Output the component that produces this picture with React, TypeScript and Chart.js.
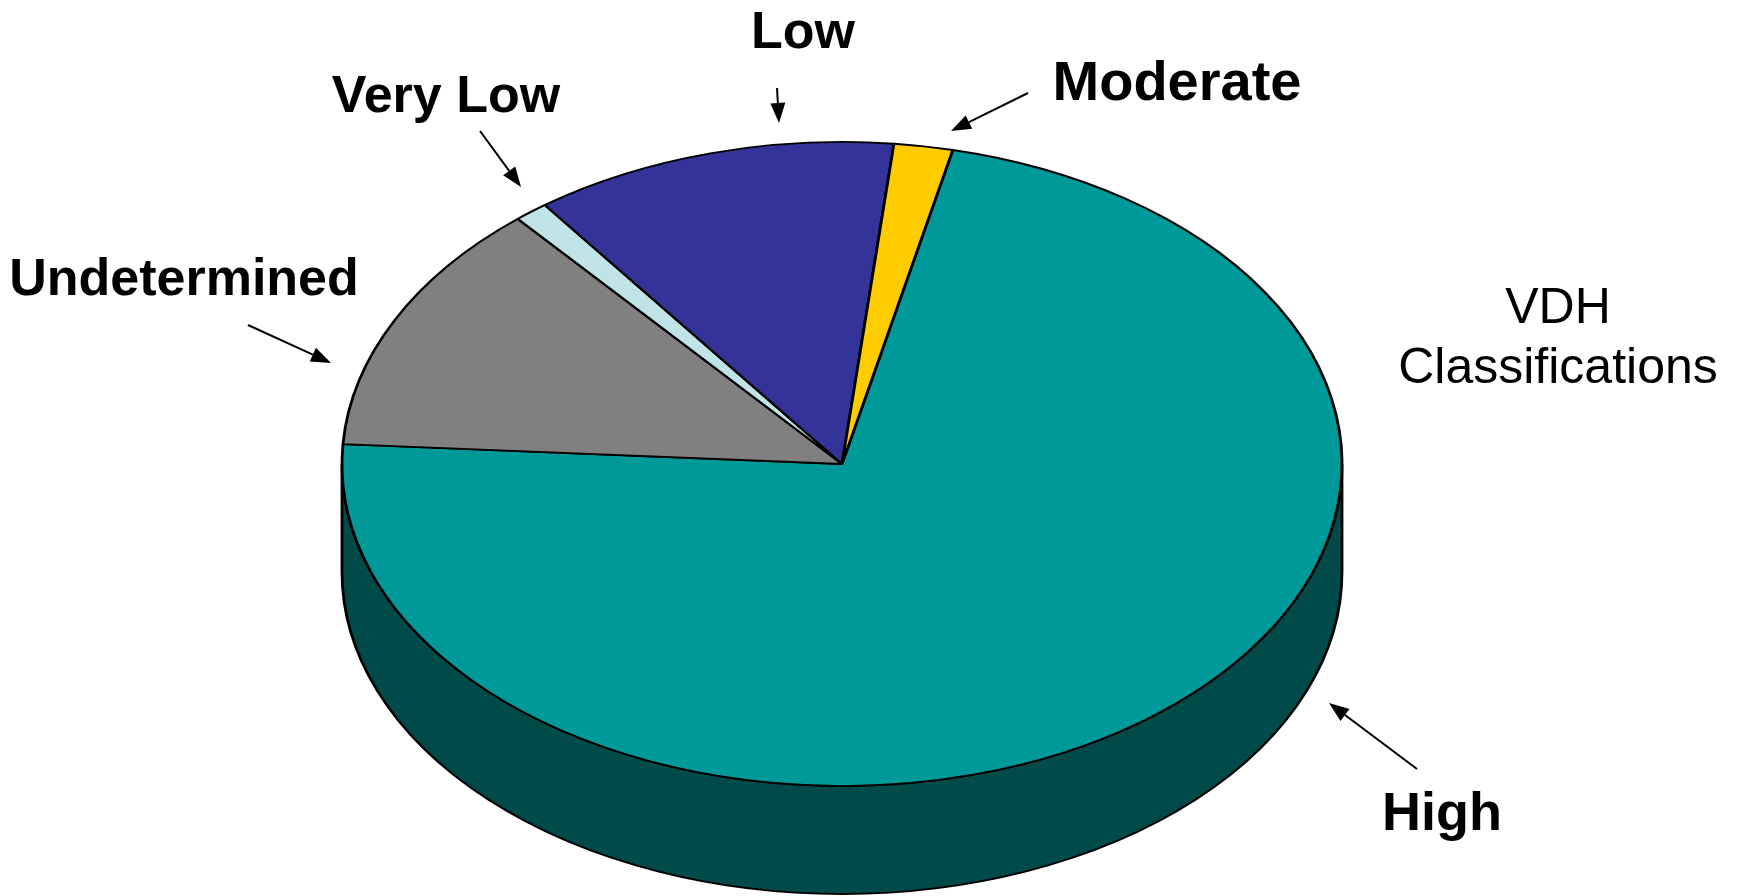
import React, { useEffect, useRef } from "react";
import { Chart, registerables } from "chart.js";

Chart.register(...registerables);

// Share of sites in each VDH classification (percent)
const categories = ["High", "Undetermined", "Very Low", "Low", "Moderate"];
const shares = [72.5, 12.8, 1.1, 11.8, 1.9];
const topColors = ["#009999", "#808080", "#BFE3E6", "#333399", "#FFCC00"];
const sideColors = ["#004A4A", "#404040", "#5F7173", "#1A1A4D", "#806600"];
const titleLines = ["VDH", "Classifications"];

// Canvas and pie geometry
const W = 1741;
const H = 896;
const CX = 842;
const CY = 464;
const RX = 500; // horizontal radius of the tilted top face
const RY = 322; // vertical radius of the tilted top face
const DEPTH = 108; // thickness of the pie rim
const ROTATION = 12.8; // degrees clockwise from 12 o'clock where "High" starts

// Callout label placement: text centre/baseline, arrow tail and arrow tip
const calloutText: [number, number][] = [
  [1442, 830],
  [184, 295],
  [446, 112],
  [803, 48],
  [1177, 100],
];
const calloutSize = [54, 52, 52, 52, 56];
const calloutTail: [number, number][] = [
  [1417, 769],
  [248, 325],
  [480, 131],
  [777, 88],
  [1028, 93],
];
const calloutTip: [number, number][] = [
  [1329, 703],
  [331, 363],
  [521, 187],
  [779, 123],
  [951, 131],
];

const FAMILY = "'Liberation Sans', Arial, Helvetica, sans-serif";
const TITLE_FONT = `50px ${FAMILY}`;

function drawArrow(ctx: CanvasRenderingContext2D, from: [number, number], to: [number, number]) {
  const [x0, y0] = from;
  const [x1, y1] = to;
  const ang = Math.atan2(y1 - y0, x1 - x0);
  const headLen = 20;
  const headHalf = 7.5;
  const bx = x1 - headLen * Math.cos(ang);
  const by = y1 - headLen * Math.sin(ang);
  ctx.save();
  ctx.strokeStyle = "#000";
  ctx.fillStyle = "#000";
  ctx.lineWidth = 2;
  ctx.beginPath();
  ctx.moveTo(x0, y0);
  ctx.lineTo(bx, by);
  ctx.stroke();
  ctx.beginPath();
  ctx.moveTo(x1, y1);
  ctx.lineTo(bx + headHalf * Math.sin(ang), by - headHalf * Math.cos(ang));
  ctx.lineTo(bx - headHalf * Math.sin(ang), by + headHalf * Math.cos(ang));
  ctx.closePath();
  ctx.fill();
  ctx.restore();
}

// Squashes the pie into a tilted disc and draws the visible rim beneath it
const tiltedPie = {
  id: "tiltedPie",
  beforeDatasetsDraw(chart: any) {
    const ctx: CanvasRenderingContext2D = chart.ctx;
    const meta = chart.getDatasetMeta(0);
    ctx.save();
    const first = meta.data[0];
    const cx = first ? first.x : CX;
    ctx.translate(cx, 0);
    ctx.scale(RX / RY, 1);
    ctx.translate(-cx, 0);

    meta.data.forEach((arc: any, i: number) => {
      const { x, y, startAngle, endAngle, outerRadius } = arc.getProps(
        ["x", "y", "startAngle", "endAngle", "outerRadius"],
        true
      );
      for (let k = -2; k <= 2; k++) {
        const lo = Math.max(startAngle, 2 * Math.PI * k);
        const hi = Math.min(endAngle, 2 * Math.PI * k + Math.PI);
        if (hi <= lo) continue;
        ctx.beginPath();
        ctx.arc(x, y, outerRadius, lo, hi);
        ctx.lineTo(x + outerRadius * Math.cos(hi), y + DEPTH + outerRadius * Math.sin(hi));
        ctx.arc(x, y + DEPTH, outerRadius, hi, lo, true);
        ctx.closePath();
        ctx.fillStyle = sideColors[i];
        ctx.fill();
        ctx.lineWidth = 1.8;
        ctx.lineJoin = "round";
        ctx.strokeStyle = "#000";
        ctx.stroke();
      }
    });
  },
  afterDatasetsDraw(chart: any) {
    chart.ctx.restore();
  },
  afterDraw(chart: any) {
    const ctx: CanvasRenderingContext2D = chart.ctx;
    ctx.save();
    ctx.fillStyle = "#000";
    ctx.textAlign = "center";
    ctx.textBaseline = "alphabetic";
    categories.forEach((name, i) => {
      ctx.font = `bold ${calloutSize[i]}px ${FAMILY}`;
      ctx.fillText(name, calloutText[i][0], calloutText[i][1]);
      drawArrow(ctx, calloutTail[i], calloutTip[i]);
    });
    ctx.font = TITLE_FONT;
    ctx.fillText(titleLines[0], 1558, 323);
    ctx.fillText(titleLines[1], 1558, 383);
    ctx.restore();
  },
};

export default function App() {
  const canvasRef = useRef<HTMLCanvasElement | null>(null);

  useEffect(() => {
    const canvas = canvasRef.current;
    if (!canvas) return;
    const chart = new Chart(canvas, {
      type: "pie",
      data: {
        labels: categories,
        datasets: [
          {
            data: shares,
            backgroundColor: topColors,
            borderColor: "#000",
            borderWidth: 1.8,
            clip: false,
          } as any,
        ],
      },
      options: {
        responsive: false,
        animation: false,
        rotation: ROTATION,
        radius: RY,
        layout: {
          padding: { left: CX - 400, right: W - CX - 400, top: 2 * CY - H, bottom: 0 },
        },
        plugins: {
          legend: { display: false },
          tooltip: { enabled: false },
          title: { display: false },
        },
      } as any,
      plugins: [tiltedPie],
    });
    return () => chart.destroy();
  }, []);

  return (
    <div style={{ position: "absolute", left: 0, top: 0, width: W, height: H, background: "#fff" }}>
      <canvas ref={canvasRef} width={W} height={H} style={{ display: "block", width: W, height: H }} />
    </div>
  );
}
